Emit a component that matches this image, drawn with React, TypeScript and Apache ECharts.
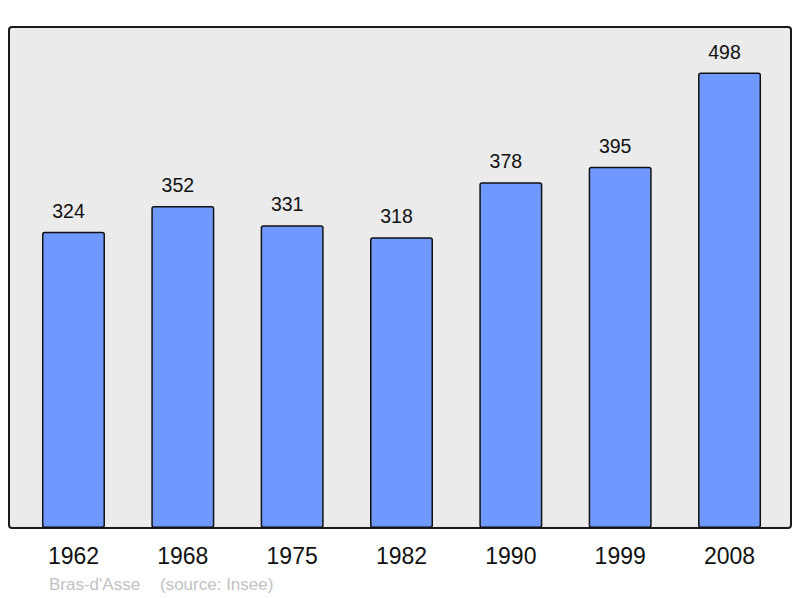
import React, { useEffect, useRef } from "react";
import * as echarts from "echarts";

const categories = ["1962", "1968", "1975", "1982", "1990", "1999", "2008"];
const population = [324, 352, 331, 318, 378, 395, 498];
const footerPlace = "Bras-d'Asse";
const footerSource = "(source: Insee)";

export default function App() {
  const ref = useRef<HTMLDivElement>(null);
  useEffect(() => {
    if (!ref.current) return;
    const chart = echarts.init(ref.current, undefined, { renderer: "svg" });
    const maxVal = Math.max(...population) * 1.1;
    chart.setOption({
      animation: false,
      grid: { left: 18.8, top: 27, width: 765.4, height: 501, containLabel: false },
      xAxis: {
        type: "category",
        data: categories,
        axisLine: { show: false },
        axisTick: { show: false },
        axisLabel: {
          fontFamily: "Liberation Sans, Arial, sans-serif",
          fontSize: 23,
          color: "#111",
          margin: 16,
        },
      },
      yAxis: {
        type: "value",
        min: 0,
        max: maxVal,
        show: false,
        splitLine: { show: false },
      },
      graphic: [
        {
          type: "rect",
          z: -10,
          silent: true,
          shape: { x: 9, y: 27, width: 782, height: 501, r: 3 },
          style: { fill: "#ebebeb", stroke: "#1a1a1a", lineWidth: 2 },
        },
        {
          type: "text",
          left: 49,
          top: 576,
          style: {
            text: footerPlace,
            fill: "#c2c2c2",
            font: "17px 'Liberation Sans', Arial, sans-serif",
          },
        },
        {
          type: "text",
          left: 160,
          top: 576,
          style: {
            text: footerSource,
            fill: "#c2c2c2",
            font: "17px 'Liberation Sans', Arial, sans-serif",
          },
        },
      ],
      series: [
        {
          type: "bar",
          data: population,
          barWidth: 63,
          itemStyle: {
            color: "#7099ff",
            borderColor: "#111",
            borderWidth: 1.5,
            borderRadius: 2,
          },
          label: {
            show: true,
            position: "top",
            distance: 11,
            offset: [-5, 0],
            color: "#111",
            fontSize: 19.5,
            fontFamily: "Liberation Sans, Arial, sans-serif",
          },
        },
      ],
    });
    return () => chart.dispose();
  }, []);
  return (
    <div
      ref={ref}
      style={{ position: "fixed", left: 0, top: 0, width: 800, height: 598, background: "#fff" }}
    />
  );
}
